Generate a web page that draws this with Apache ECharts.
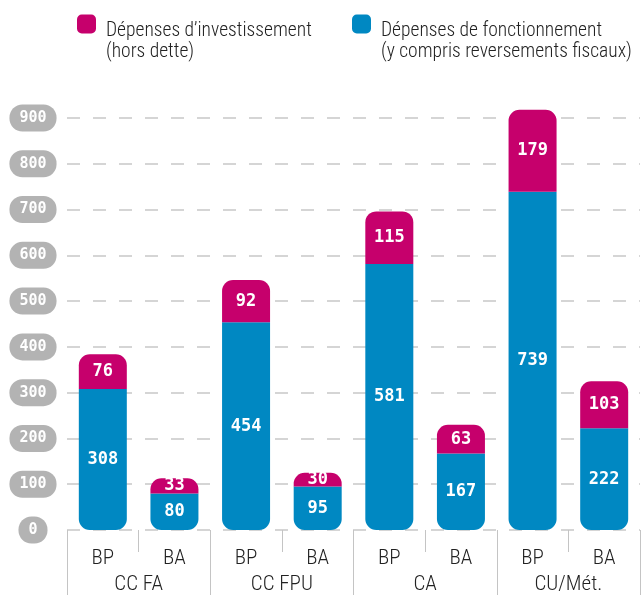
<!DOCTYPE html>
<html>
<head>
<meta charset="utf-8">
<script src="https://cdn.jsdelivr.net/npm/echarts@6/dist/echarts.min.js"></script>
<style>
  html, body { margin: 0; padding: 0; background: #fff; overflow: hidden; }
  #chart { width: 642px; height: 595px; }
</style>
</head>
<body>
<div id="chart"></div>
<script>
// Budget types per collectivity group (BP = budget principal, BA = budgets annexes)
const categories = ['BP', 'BA', 'BP', 'BA', 'BP', 'BA', 'BP', 'BA'];
const groups = ['CC FA', 'CC FPU', 'CA', 'CU/Mét.'];

// Spending per budget, stacked: operating at the bottom, investment on top
const fonctionnement = [308, 80, 454, 95, 581, 167, 739, 222];
const investissement = [76, 33, 92, 30, 115, 63, 179, 103];

const nameInvest = 'Dépenses d’investissement\n(hors dette)';
const nameFonct = 'Dépenses de fonctionnement\n(y compris reversements fiscaux)';

const MAGENTA = '#c6006c';
const BLUE = '#0088c2';
const thinFont = '"Roboto Condensed", "Liberation Sans Narrow", sans-serif';
const monoFont = '"DejaVu Sans Mono", monospace';

// Two-line legend label; a blank line on top drops the text
// so the swatch sits level with the first line.
function legendLabel(name) {
  const lines = name.split('\n');
  return '{s| }\n' + lines.map(l => '{t|' + l + '}').join('\n');
}
const legendText = {
  fontFamily: thinFont,
  fontWeight: 300,
  fontSize: 19.5,
  color: '#222',
  padding: [0, 0, 0, 5],
  rich: {
    s: { fontSize: 4, lineHeight: 36 },
    t: { fontFamily: thinFont, fontWeight: 300, fontSize: 19.5, lineHeight: 21, color: '#222' }
  }
};

const chart = echarts.init(document.getElementById('chart'), null, { renderer: 'canvas' });

chart.setOption({
  animation: false,
  backgroundColor: '#fff',
  legend: [
    {
      data: [nameInvest],
      left: 77, top: 1,
      padding: 0,
      itemWidth: 19, itemHeight: 19,
      icon: 'roundRect',
      selectedMode: false,
      formatter: legendLabel,
      textStyle: legendText
    },
    {
      data: [nameFonct],
      left: 352, top: 1,
      padding: 0,
      itemWidth: 19, itemHeight: 19,
      icon: 'roundRect',
      selectedMode: false,
      formatter: legendLabel,
      textStyle: legendText
    }
  ],
  grid: { left: 67, right: 2, top: 118, bottom: 60, containLabel: false },
  xAxis: [
    {
      type: 'category',
      data: categories,
      offset: 10,
      axisLine: { show: false },
      axisTick: { show: true, interval: 0, length: 22, lineStyle: { color: '#c4c4c4', width: 1 } },
      axisLabel: {
        interval: 0, margin: 8,
        fontFamily: thinFont, fontWeight: 300, fontSize: 21, color: '#222'
      }
    },
    {
      type: 'category',
      data: groups,
      position: 'bottom',
      offset: 10,
      axisLine: { show: false },
      axisTick: { show: true, interval: 0, length: 60, lineStyle: { color: '#c4c4c4', width: 1 } },
      axisLabel: {
        interval: 0, margin: 34,
        fontFamily: thinFont, fontWeight: 300, fontSize: 21, color: '#222'
      }
    }
  ],
  yAxis: {
    type: 'value',
    min: 0, max: 900, interval: 100,
    axisLine: { show: false },
    axisTick: { show: false },
    splitLine: { lineStyle: { type: [13, 13], color: '#c8c8c8', width: 1.5 } },
    axisLabel: {
      align: 'center',
      margin: 34,
      color: '#fff',
      fontFamily: monoFont,
      fontWeight: 'bold',
      fontSize: 15,
      lineHeight: 15,
      backgroundColor: '#b3b3b3',
      borderRadius: 13,
      padding: [7, 10, 5, 10]
    }
  },
  series: [
    {
      name: nameFonct,
      type: 'bar',
      stack: 'total',
      xAxisIndex: 0,
      barWidth: 48,
      clip: false,
      data: fonctionnement,
      itemStyle: { color: BLUE, borderRadius: [0, 0, 11, 11] },
      label: {
        show: true, position: 'inside', color: '#fff',
        fontFamily: monoFont, fontWeight: 'bold', fontSize: 17
      }
    },
    {
      name: nameInvest,
      type: 'bar',
      stack: 'total',
      xAxisIndex: 0,
      barWidth: 48,
      clip: false,
      data: investissement,
      itemStyle: { color: MAGENTA, borderRadius: [11, 11, 0, 0] },
      label: {
        show: true, position: 'inside', color: '#fff',
        fontFamily: monoFont, fontWeight: 'bold', fontSize: 17
      }
    }
  ]
});
</script>
</body>
</html>
